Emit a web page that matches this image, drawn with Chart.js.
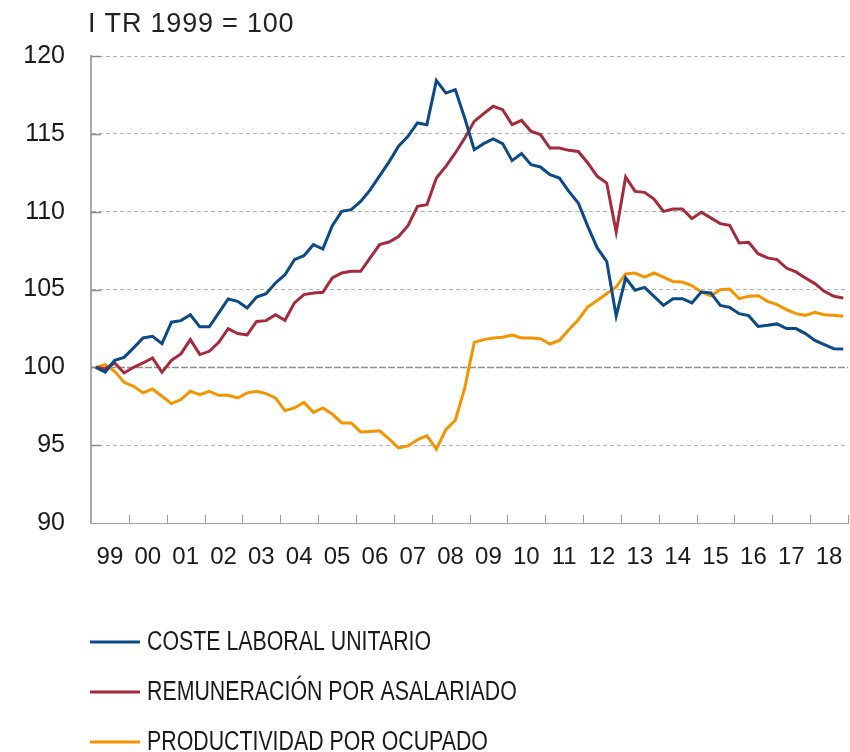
<!DOCTYPE html>
<html>
<head>
<meta charset="utf-8">
<script src="https://cdn.jsdelivr.net/npm/chart.js@4/dist/chart.umd.min.js"></script>
<style>
  html, body { margin: 0; padding: 0; background: #fff; }
  #wrap { width: 850px; height: 752px; position: relative; }
</style>
</head>
<body>
<div id="wrap"><canvas id="c" width="850" height="752"></canvas></div>
<script>
// Year tick labels (one per year, centred on each year)
const yearLabels = ['99','00','01','02','03','04','05','06','07','08','09','10','11','12','13','14','15','16','17','18'];
const unitLabel = 'I TR 1999 = 100';
const seriesNames = ['COSTE LABORAL UNITARIO', 'REMUNERACIÓN POR ASALARIADO', 'PRODUCTIVIDAD POR OCUPADO'];

// Quarterly values, I TR 1999 .. IV TR 2018
const costeLaboral = [
  100.0, 99.7, 100.45, 100.64, 101.25, 101.89, 101.99, 101.52, 102.9, 103.0,
  103.38, 102.6, 102.6, 103.5, 104.39, 104.24, 103.81, 104.52, 104.73, 105.42,
  105.95, 106.92, 107.17, 107.88, 107.6, 109.1, 110.02, 110.13, 110.66, 111.4,
  112.3, 113.2, 114.2, 114.84, 115.7, 115.59, 118.43, 117.62, 117.84, 116.0,
  113.98, 114.37, 114.67, 114.37, 113.28, 113.73, 113.02, 112.87, 112.38, 112.16,
  111.3, 110.56, 109.06, 107.67, 106.81, 103.3, 105.74, 104.95, 105.14, 104.56,
  103.98, 104.41, 104.41, 104.14, 104.84, 104.78, 103.98, 103.85, 103.45, 103.32,
  102.63, 102.7, 102.79, 102.49, 102.49, 102.17, 101.73, 101.46, 101.2, 101.18
];
const remuneracion = [
  100.0, 99.9, 100.28, 99.64, 100.0, 100.28, 100.6, 99.68, 100.45, 100.86,
  101.78, 100.82, 101.03, 101.61, 102.49, 102.17, 102.08, 102.95, 103.0, 103.38,
  103.02, 104.14, 104.67, 104.78, 104.82, 105.74, 106.06, 106.17, 106.17, 107.03,
  107.88, 108.05, 108.4, 109.1, 110.34, 110.45, 112.16, 112.91, 113.77, 114.73,
  115.8, 116.3, 116.77, 116.55, 115.59, 115.86, 115.16, 114.95, 114.09, 114.09,
  113.94, 113.87, 113.13, 112.27, 111.84, 108.7, 112.23, 111.3, 111.24, 110.81,
  110.02, 110.17, 110.17, 109.55, 109.96, 109.6, 109.23, 109.12, 107.99, 108.03,
  107.3, 107.03, 106.92, 106.38, 106.13, 105.74, 105.38, 104.88, 104.56, 104.46
];
const productividad = [
  100.0, 100.17, 99.74, 99.04, 98.78, 98.36, 98.61, 98.14, 97.67, 97.93,
  98.46, 98.25, 98.46, 98.2, 98.2, 98.03, 98.36, 98.46, 98.31, 98.03,
  97.22, 97.39, 97.75, 97.11, 97.39, 97.0, 96.43, 96.43, 95.85, 95.88,
  95.92, 95.4, 94.82, 94.95, 95.35, 95.6, 94.75, 96.0, 96.6, 98.68,
  101.6, 101.78, 101.89, 101.93, 102.08, 101.89, 101.89, 101.84, 101.5, 101.73,
  102.42, 103.06, 103.88, 104.3, 104.73, 105.16, 106.0, 106.06, 105.8, 106.06,
  105.8, 105.52, 105.48, 105.25, 104.84, 104.6, 104.99, 105.03, 104.41, 104.56,
  104.6, 104.24, 104.03, 103.71, 103.45, 103.34, 103.53, 103.38, 103.34, 103.28
];

const colors = ['#0b4a87', '#a52a3b', '#f39400'];
const toPoints = arr => arr.map((v, i) => ({ x: i + 0.5, y: v }));

const TEXT = '#1a1a1a';

const decor = {
  id: 'decor',
  beforeDatasetsDraw(chart) {
    const { ctx, chartArea: a, scales: { x, y } } = chart;
    ctx.save();
    // baseline at 100
    const y100 = Math.round(y.getPixelForValue(100)) + 0.5;
    ctx.strokeStyle = '#8f8f8f';
    ctx.lineWidth = 1.5;
    ctx.setLineDash([7, 2]);
    ctx.beginPath(); ctx.moveTo(a.left, y100); ctx.lineTo(a.right, y100); ctx.stroke();
    ctx.setLineDash([]);
    // inward y ticks
    ctx.strokeStyle = '#8a8a8a';
    ctx.lineWidth = 1.5;
    for (let v = 95; v <= 120; v += 5) {
      const py = Math.round(y.getPixelForValue(v)) + 0.5;
      ctx.beginPath(); ctx.moveTo(a.left, py); ctx.lineTo(a.left + 10, py); ctx.stroke();
    }
    // inward x ticks at year boundaries
    ctx.strokeStyle = '#9a9a9a';
    ctx.lineWidth = 1;
    for (let k = 1; k <= yearLabels.length; k++) {
      const px = Math.round(x.getPixelForValue(k * 4)) + 0.5;
      ctx.beginPath(); ctx.moveTo(px, a.bottom); ctx.lineTo(px, a.bottom - 8); ctx.stroke();
    }
    ctx.restore();
  },
  afterDraw(chart) {
    const { ctx, chartArea: a } = chart;
    ctx.save();
    // unit label
    ctx.fillStyle = '#222';
    ctx.font = '27px "Liberation Sans", Arial, sans-serif';
    ctx.textBaseline = 'middle';
    ctx.textAlign = 'left';
    try { ctx.letterSpacing = '0.8px'; } catch (e) {}
    ctx.fillText(unitLabel, a.left - 3, 25);
    try { ctx.letterSpacing = '0px'; } catch (e) {}
    // legend (condensed type)
    ctx.font = '27px "Liberation Sans", Arial, sans-serif';
    chart.data.datasets.forEach((ds, i) => {
      const cy = 642 + i * 50;
      ctx.strokeStyle = ds.borderColor;
      ctx.lineWidth = 3;
      ctx.beginPath(); ctx.moveTo(a.left - 1, cy); ctx.lineTo(a.left + 49, cy); ctx.stroke();
      ctx.fillStyle = TEXT;
      ctx.save();
      ctx.translate(a.left + 56, cy);
      ctx.scale(0.79, 1);
      ctx.fillText(ds.label, 0, 1);
      ctx.restore();
    });
    ctx.restore();
  }
};

new Chart(document.getElementById('c'), {
  type: 'line',
  data: {
    datasets: [
      { label: seriesNames[0], data: toPoints(costeLaboral), borderColor: colors[0] },
      { label: seriesNames[1], data: toPoints(remuneracion), borderColor: colors[1] },
      { label: seriesNames[2], data: toPoints(productividad), borderColor: colors[2] }
    ]
  },
  options: {
    responsive: false,
    animation: false,
    devicePixelRatio: 1,
    layout: { padding: { top: 56, right: 2, bottom: 169, left: 0 } },
    elements: {
      line: { borderWidth: 3, tension: 0, fill: false, borderJoinStyle: 'miter' },
      point: { radius: 0, hoverRadius: 0 }
    },
    plugins: { legend: { display: false }, title: { display: false }, tooltip: { enabled: false } },
    scales: {
      x: {
        type: 'linear',
        min: 0,
        max: yearLabels.length * 4,
        afterFit: s => { s.height = 60; s.paddingRight = 0; s.paddingLeft = 0; },
        grid: { display: false, drawTicks: false },
        border: { display: true, color: '#a0a0a0', width: 1 },
        ticks: {
          stepSize: 2,
          autoSkip: false,
          maxRotation: 0,
          padding: 20,
          color: TEXT,
          font: { family: '"Liberation Sans", Arial, sans-serif', size: 24 },
          callback: v => (v % 4 === 2 ? yearLabels[(v - 2) / 4] : '')
        }
      },
      y: {
        min: 90,
        max: 120,
        afterFit: s => { s.width = 91; },
        grid: {
          drawTicks: false,
          lineWidth: 1,
          color: c => (c.tick && (c.tick.value === 100 || c.tick.value === 90)) ? 'rgba(0,0,0,0)' : '#b4b4b4'
        },
        border: { display: true, color: '#a8a8a8', width: 2, dash: [4, 3] },
        ticks: {
          stepSize: 5,
          padding: 26,
          color: TEXT,
          font: { family: '"Liberation Sans", Arial, sans-serif', size: 25 }
        }
      }
    }
  },
  plugins: [decor]
});
</script>
</body>
</html>
